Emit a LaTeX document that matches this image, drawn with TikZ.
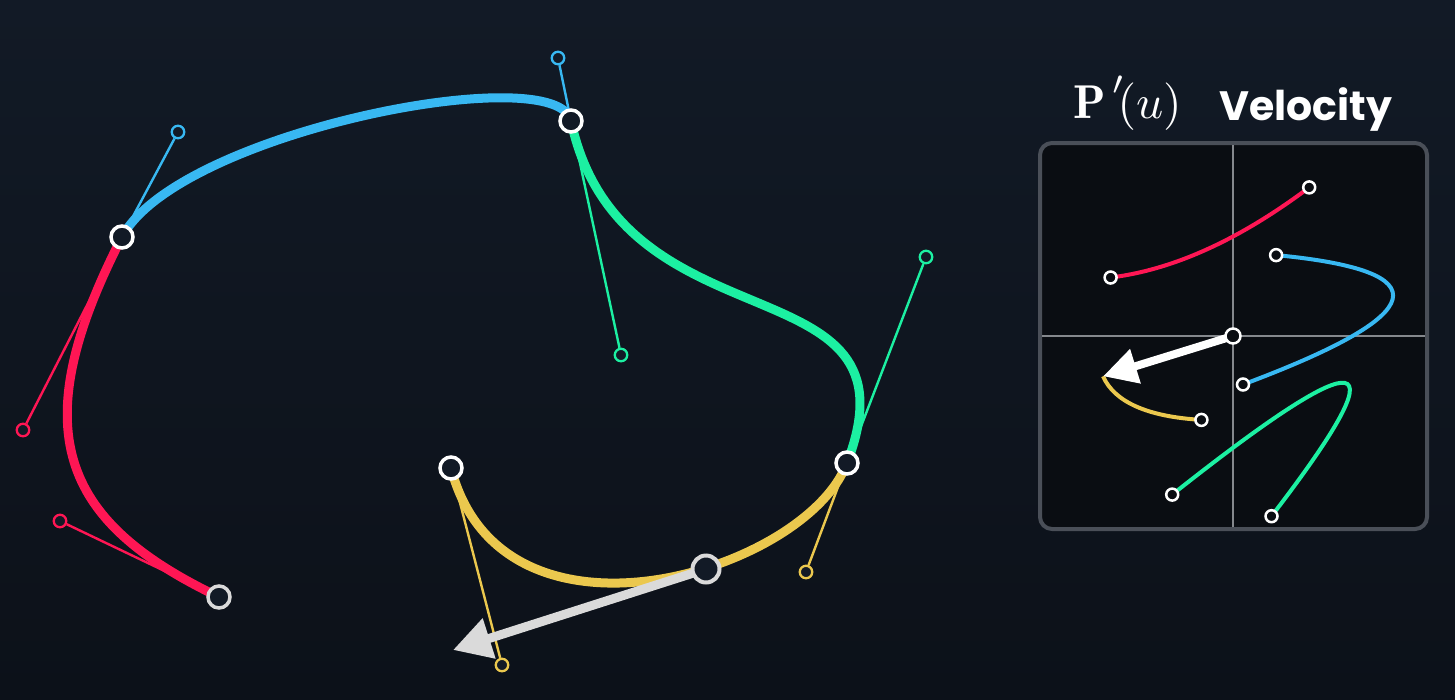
\documentclass[tikz,border=0pt]{standalone}
\usepackage{fontspec}
\newfontfamily\velfont{Poppins}
\usetikzlibrary{arrows.meta,calc}
\definecolor{bgtop}{HTML}{121A26}
\definecolor{bgbot}{HTML}{0C1119}
\definecolor{cred}{HTML}{FF1654}
\definecolor{cblue}{HTML}{38B8F2}
\definecolor{cgreen}{HTML}{1CF0A2}
\definecolor{cyel}{HTML}{EBC84E}
\definecolor{panelbg}{HTML}{0A0D12}
\definecolor{panelbd}{HTML}{4A4F58}
\definecolor{axisc}{HTML}{85888D}
\definecolor{arrowgray}{HTML}{DADADA}
\pgfdeclarelayer{bg}
\pgfdeclarelayer{lines}
\pgfsetlayers{bg,lines,main}
\begin{document}
\begin{tikzpicture}[x=1pt,y=-1pt,
  curve/.style={line width=9pt},
  handle/.style={line width=2.4pt},
  hdot/.style={circle,draw,line width=2.3pt,fill=bgtop,minimum size=12.5pt,inner sep=0pt},
  anchorpt/.style={circle,draw=white,line width=3.5pt,fill=bgtop,minimum size=22pt,inner sep=0pt},
  vdot/.style={circle,draw=white,line width=2.5pt,fill=panelbg,minimum size=12pt,inner sep=0pt},
  vcurve/.style={line width=4pt},
  bigarrow/.style={line width=9pt,-{Triangle[length=38pt,width=40pt]}},
  titlefont/.style={font=\fontsize{41}{41}\selectfont,text=white,inner sep=0pt}
]
\useasboundingbox (0,0) rectangle (1455,699);
\begin{pgfonlayer}{bg}
\shade[top color=bgtop,bottom color=bgbot] (0,0) rectangle (1455,699);
\end{pgfonlayer}

% ---------- main curve: anchors ----------
\node[anchorpt,draw=arrowgray] (a0) at (219,597) {};
\node[anchorpt] (a1) at (122,237) {};
\node[anchorpt] (a2) at (571,121) {};
\node[anchorpt] (a3) at (847,463) {};
\node[anchorpt] (a4) at (451,468) {};
% handles
\node[hdot,draw=cred] (r1) at (60,521) {};
\node[hdot,draw=cred] (r2) at (23,430) {};
\node[hdot,draw=cblue] (b1) at (178,132) {};
\node[hdot,draw=cblue] (b2) at (558,58) {};
\node[hdot,draw=cgreen] (g1) at (621,355) {};
\node[hdot,draw=cgreen] (g2) at (926,257) {};
\node[hdot,draw=cyel] (y1) at (806,572) {};
\node[hdot,draw=cyel] (y2) at (502,665) {};
% point on curve
\node[anchorpt,draw=arrowgray,line width=4pt,minimum size=27pt] (p) at (706,569) {};
\coordinate (ptip) at (453,650);

\begin{pgfonlayer}{lines}
\draw[handle,cred] (r1) -- (a0.center);
\draw[handle,cred] (r2) -- (a1.center);
\draw[handle,cblue] (b1) -- (a1.center);
\draw[handle,cblue] (b2) -- (a2.center);
\draw[handle,cgreen] (g1) -- (a2.center);
\draw[handle,cgreen] (g2) -- (a3.center);
\draw[handle,cyel] (y1) -- (a3.center);
\draw[handle,cyel] (y2) -- (a4.center);
\draw[curve,cred] (a0.center) .. controls (r1.center) and (r2.center) .. (a1.center);
\draw[curve,cblue] (a1.center) .. controls (b1.center) and (b2.center) .. (a2.center);
\draw[curve,cgreen] (a2.center) .. controls (g1.center) and (g2.center) .. (a3.center);
\draw[curve,cyel] (a3.center) .. controls (y1.center) and (y2.center) .. (a4.center);
\draw[bigarrow,arrowgray] (p.center) -- (ptip);
\end{pgfonlayer}

% ---------- velocity panel ----------
\node[text=white,inner sep=0pt,anchor=base west] (ttl) at (1073,118) {\scalebox{4.75}{$\mathbf{P}^{\,\raisebox{1.3pt}{$\scriptstyle\prime$}}\!(u)$}};
\node[titlefont,anchor=base west] (vel) at (1219,120) {\velfont\bfseries Velocity};

\node[vdot,minimum size=15pt] (o) at (1233,336) {};
\node[vdot] (rs) at (1110.6,277.5) {};
\node[vdot] (re) at (1309.2,187.4) {};
\node[vdot] (bs) at (1276.1,255.1) {};
\node[vdot] (be) at (1243,384.5) {};
\node[vdot] (gs) at (1271.5,516.2) {};
\node[vdot] (ge) at (1172.2,494.6) {};
\node[vdot] (ys) at (1201.4,419.9) {};
\coordinate (rq) at (1204.5,266);
\coordinate (bq) at (1525.6,279);
\coordinate (gq) at (1467.9,260.5);
\coordinate (yq) at (1120.4,415);
\coordinate (vt) at (1103,376.3);

\begin{pgfonlayer}{lines}
\draw[panelbd,fill=panelbg,line width=4pt,rounded corners=12pt] (1040,143) rectangle (1427,529);
\draw[axisc,line width=1.2pt] (1233,145) -- (1233,527);
\draw[axisc,line width=1.2pt] (1042,336) -- (1425,336);
\draw[vcurve,cred] (rs.center) .. controls ($(rs.center)!2/3!(rq)$) and ($(re.center)!2/3!(rq)$) .. (re.center);
\draw[vcurve,cblue] (bs.center) .. controls ($(bs.center)!2/3!(bq)$) and ($(be.center)!2/3!(bq)$) .. (be.center);
\draw[vcurve,cgreen] (gs.center) .. controls ($(gs.center)!2/3!(gq)$) and ($(ge.center)!2/3!(gq)$) .. (ge.center);
\draw[vcurve,cyel] (ys.center) .. controls ($(ys.center)!2/3!(yq)$) and ($(vt)!2/3!(yq)$) .. (vt);
\draw[white,line width=8pt,-{Triangle[length=34pt,width=34pt]}] (o.center) -- (vt);
\end{pgfonlayer}
\end{tikzpicture}
\end{document}
